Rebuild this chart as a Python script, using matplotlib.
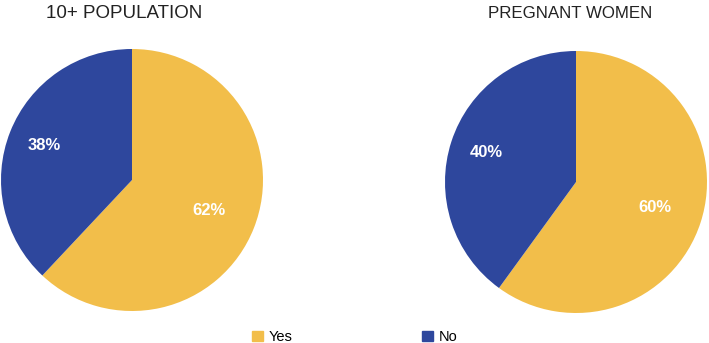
import numpy as np
import matplotlib.pyplot as plt
from matplotlib.patches import Patch

plt.rcParams['font.family'] = ['Liberation Sans', 'DejaVu Sans']

labels = ['Yes', 'No']
population = [62, 38]
pregnant = [60, 40]
titles = ['10+ POPULATION', 'PREGNANT WOMEN']
colors = ['#F2BE4A', '#2E479D']

W, H = 709, 343
fig = plt.figure(figsize=(W / 100, H / 100), dpi=100)


def draw(cx, cy, r, vals, title, title_size, title_x):
    ax = fig.add_axes([(cx - r) / W, (H - cy - r) / H, 2 * r / W, 2 * r / H])
    wedges, _, autotexts = ax.pie(vals, colors=colors, startangle=90, counterclock=False,
                                  autopct='%d%%', pctdistance=0.67,
                                  wedgeprops=dict(linewidth=0))
    # push the smaller share a little further out, like the original
    for w, t, d in zip(wedges, autotexts, [0.63, 0.72]):
        a = np.deg2rad((w.theta1 + w.theta2) / 2)
        t.set_position((d * np.cos(a), d * np.sin(a)))
        t.set_color('white')
        t.set_fontweight('bold')
        t.set_fontsize(12)
    ax.set_xlim(-1, 1)
    ax.set_ylim(-1, 1)
    ax.axis('off')
    fig.text(title_x / W, 1 - 13 / H, title, ha='center', va='center',
             fontsize=title_size, color='#222222')


draw(132, 180, 131, population, titles[0], 13.5, 124)
draw(576, 182, 131, pregnant, titles[1], 12.2, 570)

handles = [Patch(color=c, label=l) for c, l in zip(colors, labels)]
fig.legend(handles=handles, loc='center', bbox_to_anchor=(355 / W, 1 - 337 / H), ncol=2,
           frameon=False, fontsize=10.5, handlelength=0.75, handleheight=0.75,
           handletextpad=0.4, columnspacing=8.9, borderpad=0)

fig.savefig('out.png', dpi=100)
